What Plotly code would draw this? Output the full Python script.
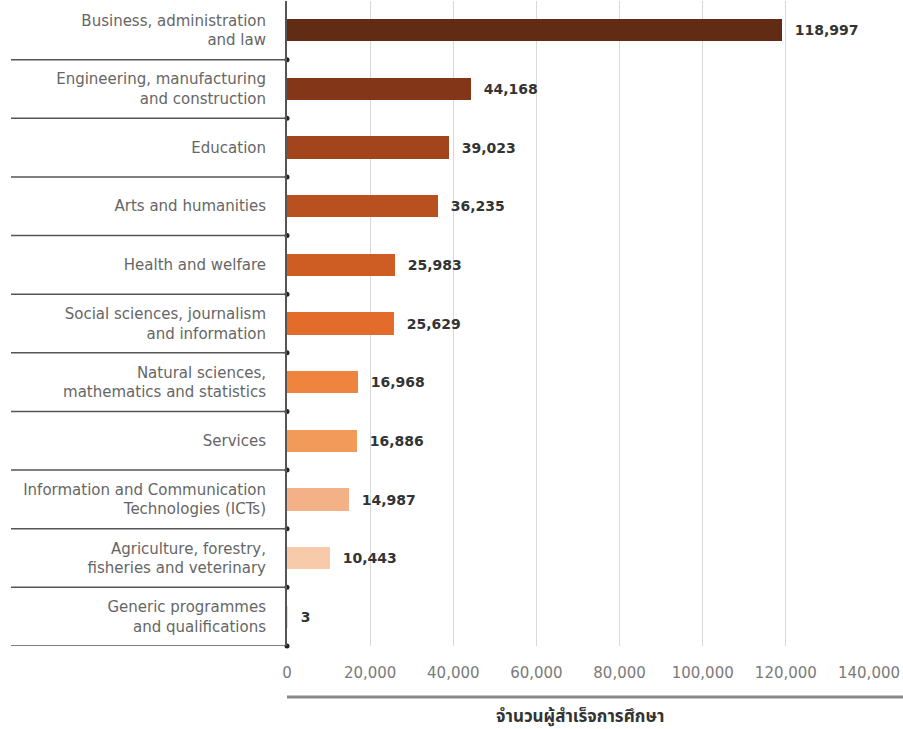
import plotly.graph_objects as go

categories = [
    "Business, administration<br>and law",
    "Engineering, manufacturing<br>and construction",
    "Education",
    "Arts and humanities",
    "Health and welfare",
    "Social sciences, journalism<br>and information",
    "Natural sciences,<br>mathematics and statistics",
    "Services",
    "Information and Communication<br>Technologies (ICTs)",
    "Agriculture, forestry,<br>fisheries and veterinary",
    "Generic programmes<br>and qualifications",
]
graduates = [118997, 44168, 39023, 36235, 25983, 25629, 16968, 16886, 14987, 10443, 3]
bar_colors = ["#612b14", "#833718", "#a2451c", "#b8501f", "#cd5d23", "#e36c2b",
              "#ef843e", "#f29a5a", "#f4b187", "#f7cba9", "#f9dcc4"]
x_ticks = [0, 20000, 40000, 60000, 80000, 100000, 120000, 140000]
x_title = "จำนวนผู้สำเร็จการศึกษา"

W, H = 903, 729
ml, mr, mt, mb = 287, 34, 1, 83
pw, ph = W - ml - mr, H - mt - mb

idx = list(range(len(categories)))
FONT = "DejaVu Sans, Verdana, sans-serif"

fig = go.Figure()
fig.add_trace(go.Bar(
    y=idx, x=graduates, orientation="h",
    marker=dict(color=bar_colors, line=dict(width=0)),
    width=0.38,
    text=["\u00a0\u00a0" + f"{v:,}" for v in graduates],
    textposition="outside",
    textfont=dict(family=FONT, size=14, color="#333333", weight=700),
    cliponaxis=False,
    hoverinfo="skip",
))

# separator dots at the axis
bounds = [i + 0.5 for i in idx[:-1]] + [len(idx) - 0.5]
fig.add_trace(go.Scatter(
    x=[0] * len(bounds), y=bounds, mode="markers",
    marker=dict(size=5, color="#222222"), cliponaxis=False, hoverinfo="skip",
))

shapes = []
for b in bounds:
    shapes.append(dict(type="line", xref="paper", yref="y",
                       x0=-(ml - 11) / pw, x1=0, y0=b, y1=b,
                       line=dict(color="#555555", width=1.5)))
# bottom rule under tick labels
ry = -(697 - (mt + ph)) / ph
shapes.append(dict(type="line", xref="paper", yref="paper",
                   x0=0, x1=(W - ml) / pw, y0=ry, y1=ry,
                   line=dict(color="#888888", width=3)))

fig.update_layout(
    width=W, height=H,
    margin=dict(l=ml, r=mr, t=mt, b=mb),
    paper_bgcolor="white", plot_bgcolor="white",
    showlegend=False,
    bargap=0,
    shapes=shapes,
    font=dict(family=FONT),
    annotations=[dict(
        text=x_title, xref="paper", yref="paper",
        x=(580 - ml) / pw, y=-(717 - (mt + ph)) / ph,
        showarrow=False, xanchor="center", yanchor="middle",
        font=dict(size=17, color="#333333", weight=700,
                  family="Noto Sans Thai, Noto Sans, DejaVu Sans, sans-serif"),
    )],
)
fig.update_xaxes(
    range=[0, 140000], tickvals=x_ticks, ticktext=[f"{t:,}" for t in x_ticks],
    showgrid=True, gridcolor="#d9d9d9", gridwidth=1,
    zeroline=False, showline=False,
    ticks="", ticklabelstandoff=16,
    tickfont=dict(size=15, color="#7a7a7a"),
)
fig.update_yaxes(
    range=[len(idx) - 0.5, -0.5],
    tickvals=idx, ticktext=categories,
    showgrid=False, zeroline=False,
    showline=True, linecolor="#555555", linewidth=2,
    ticks="", ticklabelstandoff=16,
    tickfont=dict(size=15, color="#666666"),
)

fig.write_html("out.html", config={"displayModeBar": False},
               post_script="document.body.style.margin='0';document.body.style.overflow='hidden';")
